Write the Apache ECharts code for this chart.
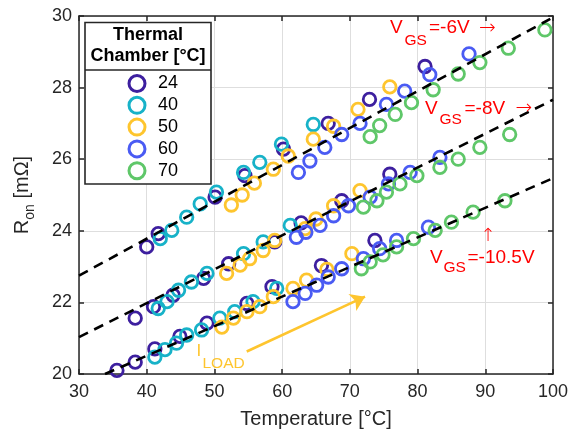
<!DOCTYPE html>
<html><head><meta charset="utf-8">
<script src="https://cdn.jsdelivr.net/npm/echarts/dist/echarts.min.js"></script>
<style>html,body{margin:0;padding:0;background:#fff}#c{width:581px;height:434px}</style>
</head><body><div id="c"></div>
<script>
// ---- data ----
const chamberTemps = ['24', '40', '50', '60', '70'];
const chamberColors = ['#3d1f9f', '#17b2c8', '#fec52e', '#4a5bf3', '#5fc769'];

const t24 = [
  [35.6,20.10],[38.3,20.33],[41.2,20.70],[44.9,21.05],[48.9,21.42],[54.8,21.97],[58.5,22.44],[65.8,23.03],[73.7,23.73],
  [38.3,21.56],[41.0,21.88],[43.9,22.20],[48.4,22.67],[52.1,23.08],[58.9,23.69],[62.8,24.22],[68.8,24.84],[75.9,25.58],
  [40.0,23.55],[41.7,23.92],[50.1,24.94],[54.5,25.54],[60.2,26.28],[66.8,27.00],[72.9,27.67],[81.1,28.59]
];
const t40 = [
  [41.2,20.47],[42.7,20.68],[44.4,20.86],[45.9,21.09],[48.1,21.23],[50.8,21.56],[53.0,21.74],[55.7,22.02],[59.2,22.39],
  [41.7,21.83],[43.0,22.02],[44.7,22.34],[46.6,22.57],[48.9,22.81],[54.3,23.36],[57.2,23.69],[61.2,24.15],
  [42.0,23.78],[43.7,24.01],[45.9,24.38],[47.9,24.75],[50.3,25.08],[54.3,25.63],[56.7,25.91],[59.9,26.42],[64.6,26.97]
];
const t50 = [
  [51.1,21.31],[52.8,21.56],[54.8,21.74],[56.7,21.88],[58.7,22.16],[61.6,22.39],[63.6,22.62],[66.6,22.92],[70.3,23.36],
  [51.8,22.81],[53.8,23.04],[55.2,23.22],[57.2,23.45],[58.9,23.73],[63.4,24.06],[65.0,24.33],[67.6,24.70],[71.5,25.12],
  [52.5,24.72],[54.1,25.00],[55.9,25.33],[58.7,25.72],[60.9,26.09],[64.6,26.56],[67.6,26.92],[71.2,27.39],[75.9,28.02]
];
const t60 = [
  [61.6,22.02],[63.4,22.25],[65.1,22.48],[66.8,22.71],[68.8,22.94],[72.0,23.22],[74.4,23.50],[76.9,23.73],[81.6,24.10],
  [62.1,23.82],[63.5,23.96],[65.6,24.15],[67.6,24.42],[69.8,24.70],[73.0,24.94],[75.7,25.31],[78.9,25.63],[83.3,26.05],
  [62.4,25.63],[64.1,25.95],[66.3,26.33],[68.8,26.69],[71.5,27.00],[75.4,27.53],[78.1,27.90],[81.8,28.36],[87.6,28.94]
];
const t70 = [
  [71.7,22.94],[73.0,23.13],[74.9,23.33],[76.9,23.55],[79.4,23.78],[82.6,24.01],[85.0,24.24],[88.2,24.52],[92.9,24.84],
  [72.0,24.66],[74.0,24.84],[75.4,25.08],[77.4,25.31],[79.9,25.54],[83.3,25.77],[86.0,26.00],[89.2,26.33],[93.6,26.69],
  [73.0,26.63],[74.4,26.94],[76.7,27.25],[79.1,27.58],[82.3,27.94],[86.0,28.38],[89.2,28.70],[93.4,29.10],[98.8,29.61]
];
const seriesValues = [t24, t40, t50, t60, t70];

// linear fits (dashed)
const fitVgs6 = [[30, 22.75], [99.6, 29.92]];
const fitVgs8 = [[30, 21.03], [100, 27.66]];
const fitVgs105 = [[33.84, 20.0], [100, 25.47]];

// I_LOAD arrow (data coordinates)
const loadArrow = [[54.77, 20.63], [72.24, 22.16]];

const xTicks = [30, 40, 50, 60, 70, 80, 90, 100];
const yTicks = [20, 22, 24, 26, 28, 30];

// ---- chart ----
const FONT = "'Liberation Sans', Arial, Helvetica, sans-serif";
const ARROWFONT = "'DejaVu Sans', sans-serif";
const AX = '#262626';
const chart = echarts.init(document.getElementById('c'), null, {renderer: 'canvas'});

const axisCommon = {
  type: 'value',
  axisLine: {show: true, onZero: false, lineStyle: {color: AX, width: 1.5}},
  axisTick: {show: true, inside: true, length: 5, lineStyle: {color: AX, width: 1.5}},
};

const scatterSeries = chamberTemps.map((t, i) => ({
  name: t,
  type: 'scatter',
  data: seriesValues[i],
  symbol: 'circle',
  symbolSize: 12.5,
  itemStyle: {color: 'rgba(0,0,0,0)', borderColor: chamberColors[i], borderWidth: 2.8, opacity: 1},
  emphasis: {disabled: true},
  z: 2
}));

const fitSeries = [fitVgs6, fitVgs8, fitVgs105].map(d => ({
  type: 'line',
  data: d,
  symbol: 'none',
  lineStyle: {color: '#000', width: 2.6, type: [10, 7]},
  silent: true,
  z: 3
}));

const YEL = '#fec52e';
const arrowSeries = {
  type: 'line',
  data: [],
  silent: true,
  markLine: {
    silent: true,
    symbol: ['none', 'arrow'],
    symbolSize: 14,
    label: {show: false},
    itemStyle: {color: YEL},
    lineStyle: {color: YEL, width: 2.6, type: 'solid'},
    data: [[{coord: loadArrow[0]}, {coord: loadArrow[1]}]]
  },
  z: 4
};

function txt(x, y, s, size, color, font) {
  return {
    type: 'text', z: 100,
    style: {x: x, y: y, text: s, fill: color, font: size + 'px ' + (font || FONT), textVerticalAlign: 'middle', verticalAlign: 'middle', textAlign: 'left', align: 'left'}
  };
}
const RED = '#ff0000';

chart.setOption({
  animation: false,
  textStyle: {fontFamily: FONT},
  grid: {left: 79, right: 28, top: 16, bottom: 58, containLabel: false},
  xAxis: [
    Object.assign({}, axisCommon, {
      min: xTicks[0], max: xTicks[xTicks.length - 1], interval: 10, position: 'bottom',
      axisLabel: {fontSize: 18, color: AX, margin: 9, fontFamily: FONT},
      splitLine: {show: true, lineStyle: {color: '#dedede', width: 1}},
      name: 'Temperature [°C]', nameLocation: 'middle', nameGap: 35,
      nameTextStyle: {fontSize: 20, color: AX, fontFamily: FONT}
    }),
    Object.assign({}, axisCommon, {
      min: xTicks[0], max: xTicks[xTicks.length - 1], interval: 10, position: 'top',
      axisLabel: {show: false}, splitLine: {show: false}
    })
  ],
  yAxis: [
    Object.assign({}, axisCommon, {
      min: yTicks[0], max: yTicks[yTicks.length - 1], interval: 2, position: 'left',
      axisLabel: {fontSize: 18, color: AX, margin: 7, fontFamily: FONT},
      splitLine: {show: true, lineStyle: {color: '#dedede', width: 1}},
      name: '{a|R}{b|on}{a| [mΩ]}', nameLocation: 'middle', nameGap: 42,
      nameTextStyle: {
        color: AX, fontFamily: FONT,
        rich: {
          a: {fontSize: 20, color: AX, fontFamily: FONT, lineHeight: 30},
          b: {fontSize: 14, color: AX, fontFamily: FONT, verticalAlign: 'bottom', lineHeight: 16}
        }
      }
    }),
    Object.assign({}, axisCommon, {
      min: yTicks[0], max: yTicks[yTicks.length - 1], interval: 2, position: 'right',
      axisLabel: {show: false}, splitLine: {show: false}
    })
  ],
  legend: {
    data: chamberTemps,
    orient: 'vertical',
    left: 127.5,
    top: 74,
    padding: 0,
    itemWidth: 16,
    itemHeight: 16,
    itemGap: 2.8,
    icon: 'circle',
    itemStyle: {color: 'rgba(0,0,0,0)', borderWidth: 3, opacity: 1},
    textStyle: {fontSize: 18, color: '#000', fontFamily: FONT, padding: [0, 0, 0, 8]},
    selectedMode: false,
    z: 60
  },
  graphic: [
    {type: 'rect', z: 50, shape: {x: 85, y: 22.5, width: 126, height: 161.5},
      style: {fill: '#fff', stroke: AX, lineWidth: 1.6}},
    {type: 'line', z: 51, shape: {x1: 85, y1: 70, x2: 211, y2: 70}, style: {stroke: AX, lineWidth: 1.6}},
    {type: 'text', z: 52, style: {x: 148, y: 35.5, text: 'Thermal', fill: '#000', font: 'bold 18px ' + FONT, textAlign: 'center', align: 'center', textVerticalAlign: 'middle', verticalAlign: 'middle'}},
    {type: 'text', z: 52, style: {x: 148, y: 56.5, text: 'Chamber [°C]', fill: '#000', font: 'bold 18px ' + FONT, textAlign: 'center', align: 'center', textVerticalAlign: 'middle', verticalAlign: 'middle'}},
    // VGS = -6V
    txt(390, 28, 'V', 19, RED), txt(404.5, 40.5, 'GS', 15.5, RED), txt(429, 28, '=-6V', 19, RED), txt(479, 29, '→', 'normal 200 20', RED, ARROWFONT),
    // VGS = -8V
    txt(425, 108.3, 'V', 19, RED), txt(439.5, 119.5, 'GS', 15.5, RED), txt(464.5, 108.3, '=-8V', 19, RED), txt(515.5, 109, '→', 'normal 200 20', RED, ARROWFONT),
    // VGS = -10.5V
    txt(480.5, 236.5, '↑', 'normal 200 18', RED, ARROWFONT), txt(430, 257.5, 'V', 19, RED), txt(443.5, 268, 'GS', 15.5, RED), txt(467.5, 257.5, '=-10.5V', 19, RED),
    // I_LOAD
    txt(196.5, 351, 'I', 17, YEL), txt(202.5, 364, 'LOAD', 15.5, YEL)
  ],
  series: scatterSeries.concat(fitSeries).concat([arrowSeries])
});
</script>
</body></html>
